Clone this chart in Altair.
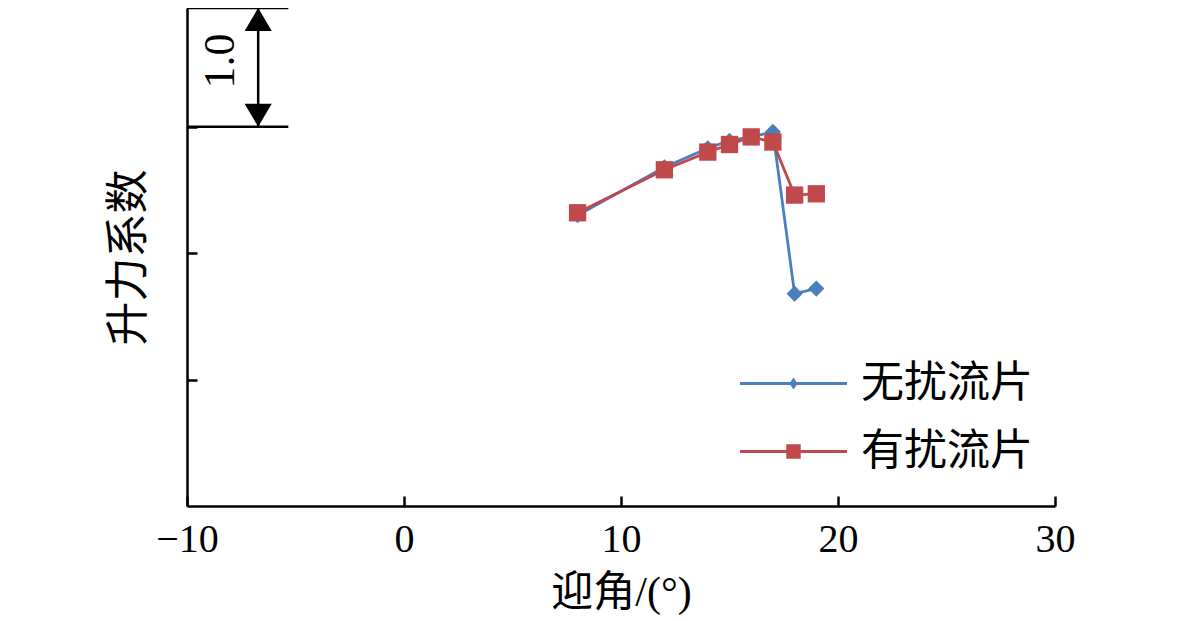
import altair as alt
import pandas as pd

# ---- data ----
angles = [8, 12, 14, 15, 16, 17, 18, 19]
cl_without = [2.30, 2.68, 2.83, 2.89, 2.92, 2.96, 1.68, 1.72]   # 无扰流片
cl_with = [2.32, 2.66, 2.80, 2.86, 2.92, 2.88, 2.46, 2.47]      # 有扰流片
series_names = ["无扰流片", "有扰流片"]
series_colors = ["#4a7ebf", "#c0494b"]
x_ticks = [-10, 0, 10, 20, 30]
y_ticks = [1, 2, 3]

# scale bar ("1.0") in the top-left corner
bar_x_start = [-10, -10]
bar_x_end = [-5.33, -5.33]
bar_levels = [3.0, 3.94]
bar_arrow_x = [-6.72]
bar_label = ["1.0"]
bar_label_x = [-8.45]
bar_label_y = [3.52]

X_DOM = [-10, 30]
Y_DOM = [0, 3.94]
W, H = 868, 498

SERIF = '"Liberation Serif", "Noto Sans CJK SC", serif'
MIXED = '"Liberation Serif", "Noto Sans CJK SC", sans-serif'

rows = []
for a, v in zip(angles, cl_without):
    rows.append({"angle": a, "cl": v, "series": series_names[0]})
for a, v in zip(angles, cl_with):
    rows.append({"angle": a, "cl": v, "series": series_names[1]})
df = pd.DataFrame(rows)

xs = alt.Scale(domain=X_DOM, nice=False, zero=False)
ys = alt.Scale(domain=Y_DOM, nice=False, zero=False)


def cscale():
    return alt.Scale(domain=series_names, range=series_colors)


# Layer A: lines with main axes (domain, labels, titles)
lines = alt.Chart(df).mark_line(strokeWidth=2.8).encode(
    x=alt.X("angle:Q", scale=xs, axis=alt.Axis(
        orient="bottom", values=x_ticks, ticks=False, grid=False,
        domain=True, domainColor="black", domainWidth=2.5,
        labelFont=SERIF, labelFontSize=40, labelColor="black", labelPadding=13,
        labelFlush=False,
        title="迎角/(°)", titleFont=MIXED, titleFontSize=42,
        titleFontWeight="normal", titleColor="black", titlePadding=13)),
    y=alt.Y("cl:Q", scale=ys, axis=alt.Axis(
        orient="left", values=y_ticks, ticks=False, labels=False, grid=False,
        domain=True, domainColor="black", domainWidth=2.5,
        title="升力系数", titleFont=MIXED, titleFontSize=44,
        titleFontWeight="normal", titleColor="black", titlePadding=36)),
    color=alt.Color("series:N", scale=cscale(), legend=None),
    detail="series:N",
)

# Layer B: markers (one layer per series), plus inward-pointing tick axes
pts_blue = alt.Chart(df).transform_filter(
    alt.datum.series == series_names[0]
).mark_point(filled=True, opacity=1, strokeWidth=0, shape="diamond", size=260).encode(
    x=alt.X("angle:Q", scale=xs, axis=alt.Axis(
        orient="top", offset=-H, values=x_ticks, ticks=True, tickSize=10,
        tickWidth=2.5, tickColor="black", labels=False, domain=False,
        grid=False, title=None)),
    y=alt.Y("cl:Q", scale=ys, axis=alt.Axis(
        orient="right", offset=-W, values=y_ticks, ticks=True, tickSize=10,
        tickWidth=2.5, tickColor="black", labels=False, domain=False,
        grid=False, title=None)),
    color=alt.Color("series:N", scale=cscale(), legend=None),
)
pts_red = alt.Chart(df).transform_filter(
    alt.datum.series == series_names[1]
).mark_point(filled=True, opacity=1, strokeWidth=0, shape="square", size=300).encode(
    x=alt.X("angle:Q", scale=xs, axis=None),
    y=alt.Y("cl:Q", scale=ys, axis=None),
    color=alt.Color("series:N", scale=cscale(), legend=None),
)

# Layer C: legend generator (marks placed off-canvas and clipped)
leg_paths = [
    "M-2.675,-0.07H2.675V0.07H-2.675ZM0,-0.3L0.2,0L0,0.3L-0.2,0Z",
    "M-2.675,-0.07H2.675V0.07H-2.675ZM-0.36,-0.36H0.36V0.36H-0.36Z",
]
legend_def = alt.Legend(
    title=None, orient="none", legendX=553, legendY=354,
    symbolSize=1600, symbolStrokeWidth=0, symbolOffset=32,
    symbolOpacity=1,
    labelOffset=46, labelFont=MIXED, labelFontSize=43, labelColor="black",
    rowPadding=24, padding=0, labelLimit=400,
)
leg = alt.Chart(pd.DataFrame({"series": series_names})).mark_point(
    filled=True, clip=True, size=1600, strokeWidth=0, opacity=1
).encode(
    x=alt.value(-3000), y=alt.value(-3000),
    color=alt.Color("series:N", scale=cscale(), legend=legend_def),
    shape=alt.Shape("series:N", scale=alt.Scale(domain=series_names, range=leg_paths),
                    legend=legend_def),
)

# Layer D: scale bar
bar_df = pd.DataFrame({"x0": bar_x_start, "x1": bar_x_end, "y": bar_levels})
bar_lines = alt.Chart(bar_df).mark_rule(strokeWidth=2.5, color="black").encode(
    x=alt.X("x0:Q", scale=xs, axis=None),
    x2="x1:Q",
    y=alt.Y("y:Q", scale=ys, axis=None),
)
shaft_df = pd.DataFrame({"x": bar_arrow_x, "y0": [bar_levels[0]], "y1": [bar_levels[1]]})
shaft = alt.Chart(shaft_df).mark_rule(strokeWidth=2.5, color="black").encode(
    x=alt.X("x:Q", scale=xs, axis=None),
    y=alt.Y("y0:Q", scale=ys, axis=None),
    y2="y1:Q",
)
head_up = alt.Chart(pd.DataFrame({"x": bar_arrow_x, "y": [bar_levels[1]]})).mark_point(
    shape="M0,0L-0.59,1L0.59,1Z", filled=True, color="black", size=2116,
    opacity=1, strokeWidth=0
).encode(x=alt.X("x:Q", scale=xs, axis=None), y=alt.Y("y:Q", scale=ys, axis=None))
head_down = alt.Chart(pd.DataFrame({"x": bar_arrow_x, "y": [bar_levels[0]]})).mark_point(
    shape="M0,0L-0.59,-1L0.59,-1Z", filled=True, color="black", size=2116,
    opacity=1, strokeWidth=0
).encode(x=alt.X("x:Q", scale=xs, axis=None), y=alt.Y("y:Q", scale=ys, axis=None))
bar_text = alt.Chart(pd.DataFrame({"x": bar_label_x, "y": bar_label_y, "t": bar_label})).mark_text(
    angle=270, font=SERIF, fontSize=44, color="black", align="center", baseline="middle"
).encode(x=alt.X("x:Q", scale=xs, axis=None), y=alt.Y("y:Q", scale=ys, axis=None), text="t:N")

chart = alt.layer(
    lines, pts_blue, pts_red, leg, bar_lines, shaft, head_up, head_down, bar_text
).resolve_scale(
    color="independent", shape="independent"
).resolve_axis(
    x="independent", y="independent"
).properties(
    width=W, height=H,
    padding={"left": 179, "top": 0, "right": 100, "bottom": 113},
    autosize=alt.AutoSizeParams(type="none"),
    background="white",
).configure_view(stroke=None)

chart.save("out.html", embed_options={"renderer": "svg", "actions": False})
